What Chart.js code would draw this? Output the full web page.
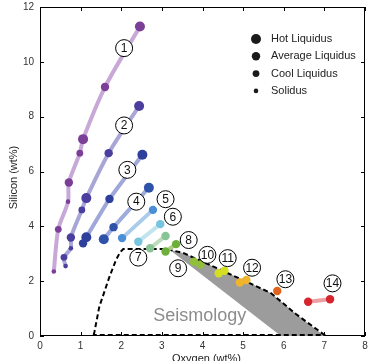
<!DOCTYPE html>
<html>
<head>
<meta charset="utf-8">
<script src="https://cdn.jsdelivr.net/npm/chart.js@4.4.1/dist/chart.umd.min.js"></script>
<style>
html, body { margin: 0; padding: 0; background: #fff; }
</style>
</head>
<body>
<canvas id="myChart" width="370" height="361"></canvas>
<script>
// point kinds: H = hot liquidus, A = average liquidus, C = cool liquidus, S = solidus
var s1_o  = [0.34, 0.45, 0.69, 0.71, 0.98, 1.06, 1.60, 2.46];
var s1_si = [2.35, 3.89, 4.90, 5.60, 6.67, 7.18, 9.08, 11.29];
var s1_kind = ['S', 'C', 'S', 'A', 'C', 'H', 'A', 'H'];

var s2_o  = [0.63, 0.59, 0.76, 0.76, 1.03, 1.14, 1.69, 2.44];
var s2_si = [2.55, 2.87, 3.20, 3.59, 4.60, 5.03, 6.67, 8.39];
var s2_kind = ['S', 'C', 'S', 'A', 'C', 'H', 'A', 'H'];

var s3_o  = [1.06, 1.14, 1.71, 2.52];
var s3_si = [3.38, 3.60, 5.00, 6.61];
var s3_kind = ['A', 'H', 'A', 'H'];

var s4_o  = [1.57, 1.81, 2.68];
var s4_si = [3.53, 3.97, 5.41];
var s4_kind = ['H', 'A', 'H'];

var s5_o  = [2.02, 2.78];
var s5_si = [3.57, 4.60];
var s6_o  = [2.42, 2.96];
var s6_si = [3.44, 4.08];
var s7_o  = [2.71, 3.09];
var s7_si = [3.20, 3.65];
var s8_o  = [3.09, 3.35];
var s8_si = [3.08, 3.35];
var s10_o  = [3.79, 3.95];
var s10_si = [2.71, 2.61];
var s11_o  = [4.40, 4.54];
var s11_si = [2.29, 2.38];
var s12_o  = [4.92, 5.08];
var s12_si = [1.95, 2.04];
var s13_o  = [5.84];
var s13_si = [1.64];
var s14_o  = [6.60, 7.14];
var s14_si = [1.25, 1.34];

// seismology outline and shaded band
var seis_o  = [1.32, 1.34, 1.46, 1.71, 1.87, 1.97, 2.05, 3.13, 3.54, 5.00, 5.69, 6.30, 7.00, 1.32];
var seis_si = [0.04, 0.15, 1.07, 2.16, 2.77, 3.05, 3.17, 3.17, 3.02, 2.04, 1.56, 0.80, 0.04, 0.04];
var band_o  = [3.13, 3.54, 5.00, 5.69, 6.30, 7.00, 5.93, 3.23];
var band_si = [3.17, 3.02, 2.04, 1.56, 0.80, 0.00, 0.00, 3.10];

var labelNum = ['1', '2', '3', '4', '5', '6', '7', '8', '9', '10', '11', '12', '13', '14'];
var labelO  = [2.07, 2.07, 2.15, 2.37, 3.09, 3.27, 2.42, 3.66, 3.40, 4.12, 4.62, 5.22, 6.04, 7.20];
var labelSi = [10.50, 7.68, 6.06, 4.90, 4.99, 4.35, 2.86, 3.50, 2.47, 2.96, 2.84, 2.49, 2.07, 1.92];

var legendNames = ['Hot Liquidus', 'Average Liquidus', 'Cool Liquidus', 'Solidus'];
var legendKinds = ['H', 'A', 'C', 'S'];

var xTicks = [0, 1, 2, 3, 4, 5, 6, 7, 8];
var yTicks = [0, 2, 4, 6, 8, 10, 12];

var radiusOf = { H: 5, A: 4.2, C: 3.4, S: 2.3 };

function pts(xs, ys) {
    return xs.map(function (v, i) { return { x: v, y: ys[i] }; });
}

function series(xs, ys, kinds, dot, line, tension) {
    return {
        data: pts(xs, ys),
        showLine: true,
        borderColor: line,
        borderWidth: 4,
        tension: tension,
        backgroundColor: dot,
        pointBackgroundColor: dot,
        pointBorderWidth: 0,
        pointRadius: kinds ? kinds.map(function (k) { return radiusOf[k]; }) : 4.2,
        order: 1
    };
}

var datasets = [
    series(s1_o, s1_si, s1_kind, '#7b3f98', '#c7a8d7', 0.3),
    series(s2_o, s2_si, s2_kind, '#4c3e9e', '#a8a6d7', 0.3),
    series(s3_o, s3_si, s3_kind, '#2f409c', '#a0a8d9', 0.15),
    series(s4_o, s4_si, s4_kind, '#2e52aa', '#9dacdb', 0.15),
    series(s5_o, s5_si, null, '#4a8ed6', '#abcbed', 0),
    series(s6_o, s6_si, null, '#76c4de', '#c2e4ef', 0),
    series(s7_o, s7_si, null, '#89c496', '#bcdcbd', 0),
    series(s8_o, s8_si, null, '#6caf3b', '#a9cf80', 0),
    series(s10_o, s10_si, null, '#92bf3a', '#b9d77c', 0),
    series(s11_o, s11_si, null, '#d4df22', '#e6ec80', 0),
    series(s12_o, s12_si, null, '#f0b52c', '#f6d37f', 0),
    series(s13_o, s13_si, null, '#e0641e', '#eea06f', 0),
    series(s14_o, s14_si, null, '#d5252d', '#eda0a3', 0),
    {
        data: pts(seis_o, seis_si),
        showLine: true,
        borderColor: '#000',
        borderWidth: 2,
        borderDash: [5, 3],
        pointRadius: 0,
        tension: 0,
        clip: false,
        order: 19
    },
    {
        data: pts(band_o, band_si),
        showLine: true,
        borderWidth: 0,
        borderColor: 'rgba(0,0,0,0)',
        backgroundColor: '#9c9c9c',
        fill: 'shape',
        pointRadius: 0,
        tension: 0,
        order: 20
    }
];

const decor = {
    id: 'decor',
    beforeDatasetsDraw(chart) {
        const ctx = chart.ctx;
        const a = chart.chartArea;
        const x = chart.scales.x, y = chart.scales.y;
        ctx.save();
        // frame with inward ticks
        ctx.strokeStyle = '#000';
        ctx.lineWidth = 1;
        ctx.strokeRect(a.left + 0.5, a.top + 0.5, a.right - a.left - 1, a.bottom - a.top - 1);
        ctx.beginPath();
        xTicks.forEach(function (v) {
            const p = Math.round(x.getPixelForValue(v)) + 0.5;
            ctx.moveTo(p, a.bottom); ctx.lineTo(p, a.bottom - 4);
            ctx.moveTo(p, a.top); ctx.lineTo(p, a.top + 4);
        });
        yTicks.forEach(function (v) {
            const p = Math.round(y.getPixelForValue(v)) + 0.5;
            ctx.moveTo(a.left, p); ctx.lineTo(a.left + 4, p);
            ctx.moveTo(a.right, p); ctx.lineTo(a.right - 4, p);
        });
        ctx.stroke();

        // tick labels
        ctx.fillStyle = '#333';
        ctx.font = '10px "Liberation Sans", Arial, sans-serif';
        ctx.textAlign = 'center';
        ctx.textBaseline = 'top';
        xTicks.forEach(function (v) {
            ctx.fillText(String(v), x.getPixelForValue(v), a.bottom + 5);
        });
        ctx.textAlign = 'right';
        ctx.textBaseline = 'middle';
        yTicks.forEach(function (v) {
            ctx.fillText(String(v), a.left - 6, y.getPixelForValue(v));
        });

        // axis titles
        ctx.font = '11px "Liberation Sans", Arial, sans-serif';
        ctx.fillStyle = '#222';
        ctx.textAlign = 'center';
        ctx.textBaseline = 'top';
        ctx.fillText('Oxygen (wt%)', (a.left + a.right) / 2 + 4, a.bottom + 17);
        ctx.save();
        ctx.translate(14, (a.top + a.bottom) / 2 + 6);
        ctx.rotate(-Math.PI / 2);
        ctx.textBaseline = 'middle';
        ctx.fillText('Silicon (wt%)', 0, 0);
        ctx.restore();
        ctx.restore();
    },
    afterDatasetsDraw(chart) {
        const ctx = chart.ctx;
        const a = chart.chartArea;
        const x = chart.scales.x, y = chart.scales.y;
        ctx.save();

        // seismology label
        ctx.fillStyle = '#8c8c8c';
        ctx.font = '18px "Liberation Sans", Arial, sans-serif';
        ctx.textAlign = 'center';
        ctx.textBaseline = 'middle';
        ctx.fillText('Seismology', x.getPixelForValue(3.93), y.getPixelForValue(0.73));

        // circled numbers
        ctx.font = '12px "Liberation Sans", Arial, sans-serif';
        labelNum.forEach(function (t, i) {
            const px = x.getPixelForValue(labelO[i]);
            const py = y.getPixelForValue(labelSi[i]);
            ctx.beginPath();
            ctx.arc(px, py, 8.5, 0, Math.PI * 2);
            ctx.fillStyle = '#fff';
            ctx.fill();
            ctx.strokeStyle = '#000';
            ctx.lineWidth = 1;
            ctx.stroke();
            ctx.fillStyle = '#111';
            ctx.fillText(t, px, py + 0.5);
        });

        // legend
        ctx.font = '11px "Liberation Sans", Arial, sans-serif';
        ctx.textAlign = 'left';
        legendNames.forEach(function (name, i) {
            const ly = a.top + 32 + i * 17.3;
            ctx.beginPath();
            ctx.arc(a.right - 109, ly, radiusOf[legendKinds[i]], 0, Math.PI * 2);
            ctx.fillStyle = '#1a1a1a';
            ctx.fill();
            ctx.fillStyle = '#222';
            ctx.fillText(name, a.right - 94, ly);
        });
        ctx.restore();
    }
};

const ctx = document.getElementById('myChart');
new Chart(ctx, {
    type: 'scatter',
    data: { datasets: datasets },
    options: {
        responsive: false,
        animation: false,
        devicePixelRatio: 1,
        layout: { padding: { left: 40, right: 2, top: 7, bottom: 25 } },
        plugins: { legend: { display: false }, tooltip: { enabled: false } },
        scales: {
            x: { type: 'linear', min: 0, max: 8, display: false },
            y: { type: 'linear', min: 0, max: 12, display: false }
        }
    },
    plugins: [decor]
});
</script>
</body>
</html>
